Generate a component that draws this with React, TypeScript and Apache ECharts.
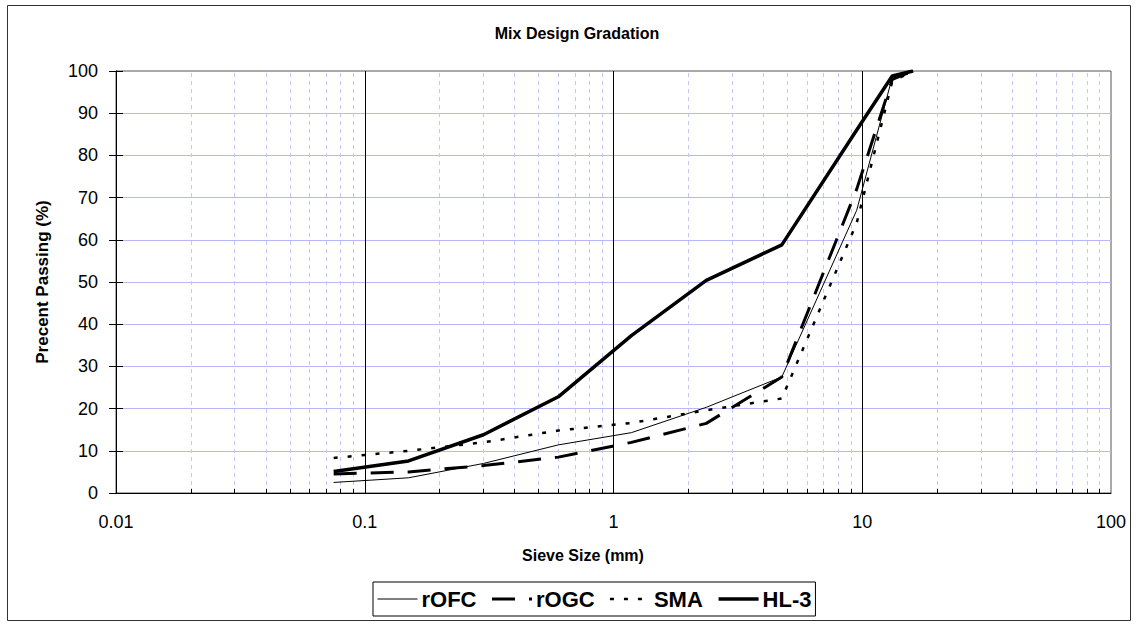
import React, { useEffect, useRef } from "react";
import * as echarts from "echarts";

const sieveSizes = [0.075, 0.15, 0.3, 0.6, 1.18, 2.36, 4.75, 9.5, 13.2, 16];
const rOFC = [2.5, 3.6, 7, 11.4, 14.3, 20.3, 27.5, 67, 98.5, 100];
const rOGC = [4.5, 5, 6.5, 8.5, 12, 16.5, 27.5, 72, 98, 100];
const SMA = [8.3, 10, 12, 14.8, 16.6, 19.6, 22.4, 64, 97.5, 100];
const HL3 = [5.1, 7.6, 13.8, 22.8, 37.3, 50.4, 58.8, 86, 98.8, 100];

const majorX = [0.1, 1, 10];
const minorX = [
  0.02, 0.03, 0.04, 0.05, 0.06, 0.07, 0.08, 0.09,
  0.2, 0.3, 0.4, 0.5, 0.6, 0.7, 0.8, 0.9,
  2, 3, 4, 5, 6, 7, 8, 9,
  20, 30, 40, 50, 60, 70, 80, 90,
];

const FONT = "'Liberation Sans', Arial, sans-serif";

const styles: Record<string, { width: number; type: any }> = {
  rOFC: { width: 1, type: "solid" },
  rOGC: { width: 3, type: [23, 14] },
  SMA: { width: 2.5, type: [4, 10] },
  "HL-3": { width: 3.5, type: "solid" },
};

function pairs(ys: number[]) {
  return sieveSizes.map((x, i) => [x, ys[i]]);
}

export default function App() {
  const ref = useRef<HTMLDivElement>(null);
  useEffect(() => {
    if (!ref.current) return;
    const chart = echarts.init(ref.current, undefined, { renderer: "svg" });
    const lineSeries = (name: string, ys: number[]) => ({
      name,
      type: "line",
      data: pairs(ys),
      showSymbol: false,
      symbol: "none",
      z: 5,
      itemStyle: { color: "#000" },
      lineStyle: { color: "#000", width: styles[name].width, type: styles[name].type, cap: "butt" },
    });
    chart.setOption({
      animation: false,
      backgroundColor: "#fff",
      grid: {
        left: 116,
        top: 71,
        right: 27,
        bottom: 133,
        show: true,
        borderColor: "#555",
        borderWidth: 1,
      },
      xAxis: {
        type: "log",
        logBase: 10,
        min: 0.01,
        max: 100,
        axisLine: { lineStyle: { color: "#000", width: 1 } },
        axisTick: { show: false },
        splitLine: { show: false },
        axisLabel: {
          color: "#000",
          fontSize: 18,
          fontFamily: FONT,
          margin: 20,
          formatter: (v: number) => String(+Number(v).toPrecision(4)),
        },
      },
      yAxis: [
        {
          type: "value",
          min: 0,
          max: 100,
          interval: 10,
          axisLine: { show: true, lineStyle: { color: "#000", width: 1 } },
          axisTick: { show: true, inside: false, length: 7, lineStyle: { color: "#000" } },
          splitLine: {
            show: true,
            showMinLine: false,
            showMaxLine: false,
            lineStyle: { color: "#b8b8f8", width: 1, type: "solid" },
          },
          axisLabel: { color: "#000", fontSize: 18, fontFamily: FONT, margin: 18 },
        },
        {
          type: "value",
          min: 0,
          max: 100,
          interval: 10,
          position: "left",
          axisLine: { show: false },
          axisTick: { show: true, inside: true, length: 7, lineStyle: { color: "#000" } },
          splitLine: { show: false },
          axisLabel: { show: false },
        },
      ],
      legend: {
        left: 373,
        top: 582,
        orient: "horizontal",
        padding: [6, 4, 6, 4],
        borderColor: "#000",
        borderWidth: 1,
        backgroundColor: "#fff",
        itemWidth: 40,
        itemHeight: 14,
        itemGap: 14,
        itemStyle: { opacity: 0, borderWidth: 0 },
        textStyle: { color: "#000", fontSize: 22, fontWeight: "bold", fontFamily: FONT, padding: [0, 0, 0, -1] },
        data: ["rOFC", "rOGC", "SMA", "HL-3"].map((n) => ({
          name: n,
          lineStyle: { color: "#000", width: styles[n].width, type: styles[n].type, cap: "butt" },
        })),
      },
      graphic: [
        {
          type: "rect",
          shape: { x: 7.5, y: 5.5, width: 1123, height: 615 },
          style: { fill: "none", stroke: "#333", lineWidth: 1 },
          silent: true,
          z: -10,
        },
        {
          type: "text",
          x: 577,
          y: 33,
          style: {
            text: "Mix Design Gradation",
            fill: "#000",
            font: `bold 16px ${FONT}`,
            align: "center",
            verticalAlign: "middle",
          },
        },
        {
          type: "text",
          x: 583,
          y: 555,
          style: {
            text: "Sieve Size (mm)",
            fill: "#000",
            font: `bold 16px ${FONT}`,
            align: "center",
            verticalAlign: "middle",
          },
        },
        {
          type: "text",
          x: 42,
          y: 282,
          rotation: Math.PI / 2,
          style: {
            text: "Precent Passing (%)",
            fill: "#000",
            font: `bold 17px ${FONT}`,
            align: "center",
            verticalAlign: "middle",
          },
        },
      ],
      series: [
        {
          name: "grid-lines",
          type: "line",
          data: [],
          z: 1,
          silent: true,
          markLine: {
            silent: true,
            symbol: "none",
            label: { show: false },
            animation: false,
            data: [
              ...minorX.map((v) => ({
                xAxis: v,
                lineStyle: { color: "#c4c4ff", width: 1, type: [4, 4] },
              })),
              ...majorX.map((v) => ({
                xAxis: v,
                lineStyle: { color: "#000", width: 1, type: "solid" },
              })),
              ...minorX.map((v) => [
                { coord: [v, 0], lineStyle: { color: "#000", width: 1, type: "solid" } },
                { coord: [v, 1] },
              ]),
            ],
          },
        },
        lineSeries("rOFC", rOFC),
        lineSeries("rOGC", rOGC),
        lineSeries("SMA", SMA),
        lineSeries("HL-3", HL3),
      ],
    });
    return () => chart.dispose();
  }, []);
  return (
    <div
      ref={ref}
      style={{ position: "fixed", left: 0, top: 0, width: 1138, height: 626, background: "#fff" }}
    />
  );
}
